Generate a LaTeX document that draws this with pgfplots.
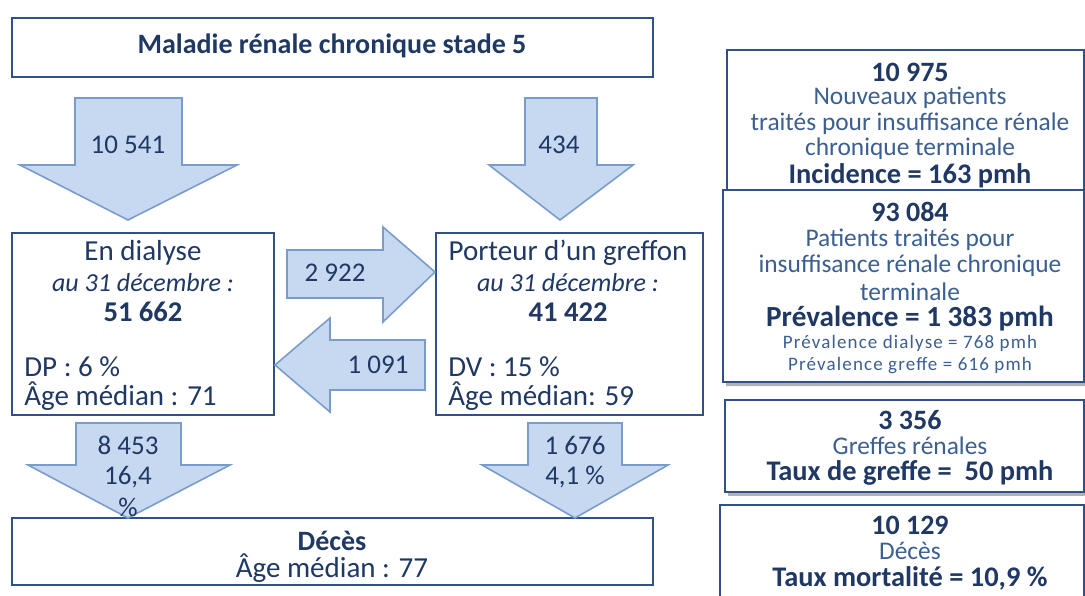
\documentclass[border=0pt]{standalone}
\usepackage{fontspec}
\setmainfont{Carlito}
\usepackage{pgfplots}
\pgfplotsset{compat=1.18}

\definecolor{boxc}{HTML}{2F5188}
\definecolor{arrf}{HTML}{C6D9F1}
\definecolor{arrd}{HTML}{7A9CCB}
\definecolor{txt}{HTML}{1F3864}
\definecolor{txtl}{HTML}{3B5F90}

\pgfplotsset{
  box/.style={draw=boxc, line width=1.1pt, fill=white, mark=none},
  shadow/.style={draw=none, fill=black!30, mark=none},
  arr/.style={draw=arrd, line width=0.8pt, fill=arrf, mark=none},
}
\newcommand\fs[1]{\fontsize{#1}{#1}\selectfont}

\begin{document}
\begin{tikzpicture}[every node/.style={text=txt, inner sep=0pt}]
\begin{axis}[
    width=542.5pt, height=297.5pt, scale only axis,
    xmin=0, xmax=1085, ymin=0, ymax=595, y dir=reverse,
    axis lines=none, clip=false,
]
% boxes
\addplot[box] coordinates {(12,18) (653,18) (653,77) (12,77)} --cycle;
\addplot[box] coordinates {(12,233) (274,233) (274,415) (12,415)} --cycle;
\addplot[box] coordinates {(436,233) (703,233) (703,415) (436,415)} --cycle;
\addplot[box] coordinates {(12,518) (653,518) (653,585) (12,585)} --cycle;
% right panel (with soft shadow)
\addplot[shadow] coordinates {(730,53) (1088,53) (1088,386) (726,386)} --cycle;
\addplot[shadow] coordinates {(728,404) (1088,404) (1088,496) (728,496)} --cycle;
\addplot[shadow] coordinates {(723,509) (1088,509) (1088,610) (723,610)} --cycle;
\addplot[box, line width=1.4pt] coordinates {(727,50) (1084,50) (1084,190) (727,190)} --cycle;
\addplot[box, line width=1.4pt] coordinates {(723,190) (1084,190) (1084,382) (723,382)} --cycle;
\addplot[box, line width=1.4pt] coordinates {(725,400) (1084,400) (1084,492) (725,492)} --cycle;
\addplot[box, line width=1.4pt] coordinates {(720,505) (1084,505) (1084,610) (720,610)} --cycle;
% arrows
\addplot[arr] coordinates {(75,98) (182,98) (182,165) (237,165) (128,220) (20,165) (75,165)} --cycle;
\addplot[arr] coordinates {(525,98) (597,98) (597,165) (633,165) (560,220) (489,165) (525,165)} --cycle;
\addplot[arr] coordinates {(287,250) (383,250) (383,227) (435,272) (383,322) (383,298) (287,298)} --cycle;
\addplot[arr] coordinates {(425,340) (330,340) (330,318) (275,365) (330,412) (330,390) (425,390)} --cycle;
\addplot[arr] coordinates {(76,423) (181,423) (181,465) (230,465) (128,518) (28,465) (76,465)} --cycle;
\addplot[arr] coordinates {(528,423) (622,423) (622,465) (668,465) (575,518) (482,465) (528,465)} --cycle;

\coordinate (bl) at (axis cs:0,595);
\coordinate (tr) at (axis cs:1085,0);

% left diagram text
\node[font=\fs{14}\bfseries] at (axis cs:332,46) {Maladie rénale chronique stade 5};
\node[font=\fs{13.5}] at (axis cs:128,145) {10 541};
\node[font=\fs{13.5}] at (axis cs:559,145) {434};
\node[font=\fs{14.5}] at (axis cs:143,253) {En dialyse};
\node[font=\fs{13}\itshape] at (axis cs:143,283) {au 31 décembre :};
\node[font=\fs{14.3}\bfseries] at (axis cs:143,312) {51 662};
\node[font=\fs{14.5}, anchor=west] at (axis cs:24,367) {DP : 6 \%};
\node[font=\fs{14.5}, anchor=west] at (axis cs:24,396) {Âge médian : 71};
\node[font=\fs{14.5}] at (axis cs:568,253) {Porteur d’un greffon};
\node[font=\fs{13}\itshape] at (axis cs:568,283) {au 31 décembre :};
\node[font=\fs{14.3}\bfseries] at (axis cs:568,312) {41 422};
\node[font=\fs{14.5}, anchor=west] at (axis cs:448,367) {DV : 15 \%};
\node[font=\fs{14.5}, anchor=west] at (axis cs:448,396) {Âge médian: 59};
\node[font=\fs{13.5}] at (axis cs:335,273) {2 922};
\node[font=\fs{13.5}] at (axis cs:378,365) {1 091};
\node[font=\fs{13.5}] at (axis cs:128,445) {8 453};
\node[font=\fs{13.5}] at (axis cs:128,477) {16,4};
\node[font=\fs{13.5}] at (axis cs:128,507) {\%};
\node[font=\fs{13.5}] at (axis cs:575,445) {1 676};
\node[font=\fs{13.5}] at (axis cs:575,477) {4,1 \%};
\node[font=\fs{14}\bfseries] at (axis cs:332,541) {Décès};
\node[font=\fs{14.5}] at (axis cs:332,568) {Âge médian : 77};

% right panel text
\node[font=\fs{14}\bfseries] at (axis cs:910,72) {10 975};
\node[font=\fs{12.7}, text=txtl] at (axis cs:910,98) {Nouveaux patients};
\node[font=\fs{12.7}, text=txtl] at (axis cs:910,124) {traités pour insuffisance rénale};
\node[font=\fs{12.7}, text=txtl] at (axis cs:910,149) {chronique terminale};
\node[font=\fs{14.2}\bfseries] at (axis cs:910,176) {Incidence = 163 pmh};
\node[font=\fs{14}\bfseries] at (axis cs:910,212) {93 084};
\node[font=\fs{12.7}, text=txtl] at (axis cs:910,240) {Patients traités pour};
\node[font=\fs{12.7}, text=txtl] at (axis cs:910,266) {insuffisance rénale chronique};
\node[font=\fs{12.7}, text=txtl] at (axis cs:910,292) {terminale};
\node[font=\fs{14.6}\bfseries] at (axis cs:910,319) {Prévalence = 1 383 pmh};
\node[font=\fs{9.5}\addfontfeatures{LetterSpace=6}, text=txtl] at (axis cs:910,343) {Prévalence dialyse = 768 pmh};
\node[font=\fs{9.5}\addfontfeatures{LetterSpace=6}, text=txtl] at (axis cs:910,366) {Prévalence greffe = 616 pmh};
\node[font=\fs{14}\bfseries] at (axis cs:910,420) {3 356};
\node[font=\fs{12.7}, text=txtl] at (axis cs:910,446) {Greffes rénales};
\node[font=\fs{14.2}\bfseries] at (axis cs:910,473) {Taux de greffe = \ 50 pmh};
\node[font=\fs{14}\bfseries] at (axis cs:910,525) {10 129};
\node[font=\fs{12.7}, text=txtl] at (axis cs:910,551) {Décès};
\node[font=\fs{14.2}\bfseries] at (axis cs:910,578) {Taux mortalité = 10,9 \%};
\end{axis}
\pgfresetboundingbox
\path[use as bounding box] (bl) rectangle (tr);
\end{tikzpicture}
\end{document}
